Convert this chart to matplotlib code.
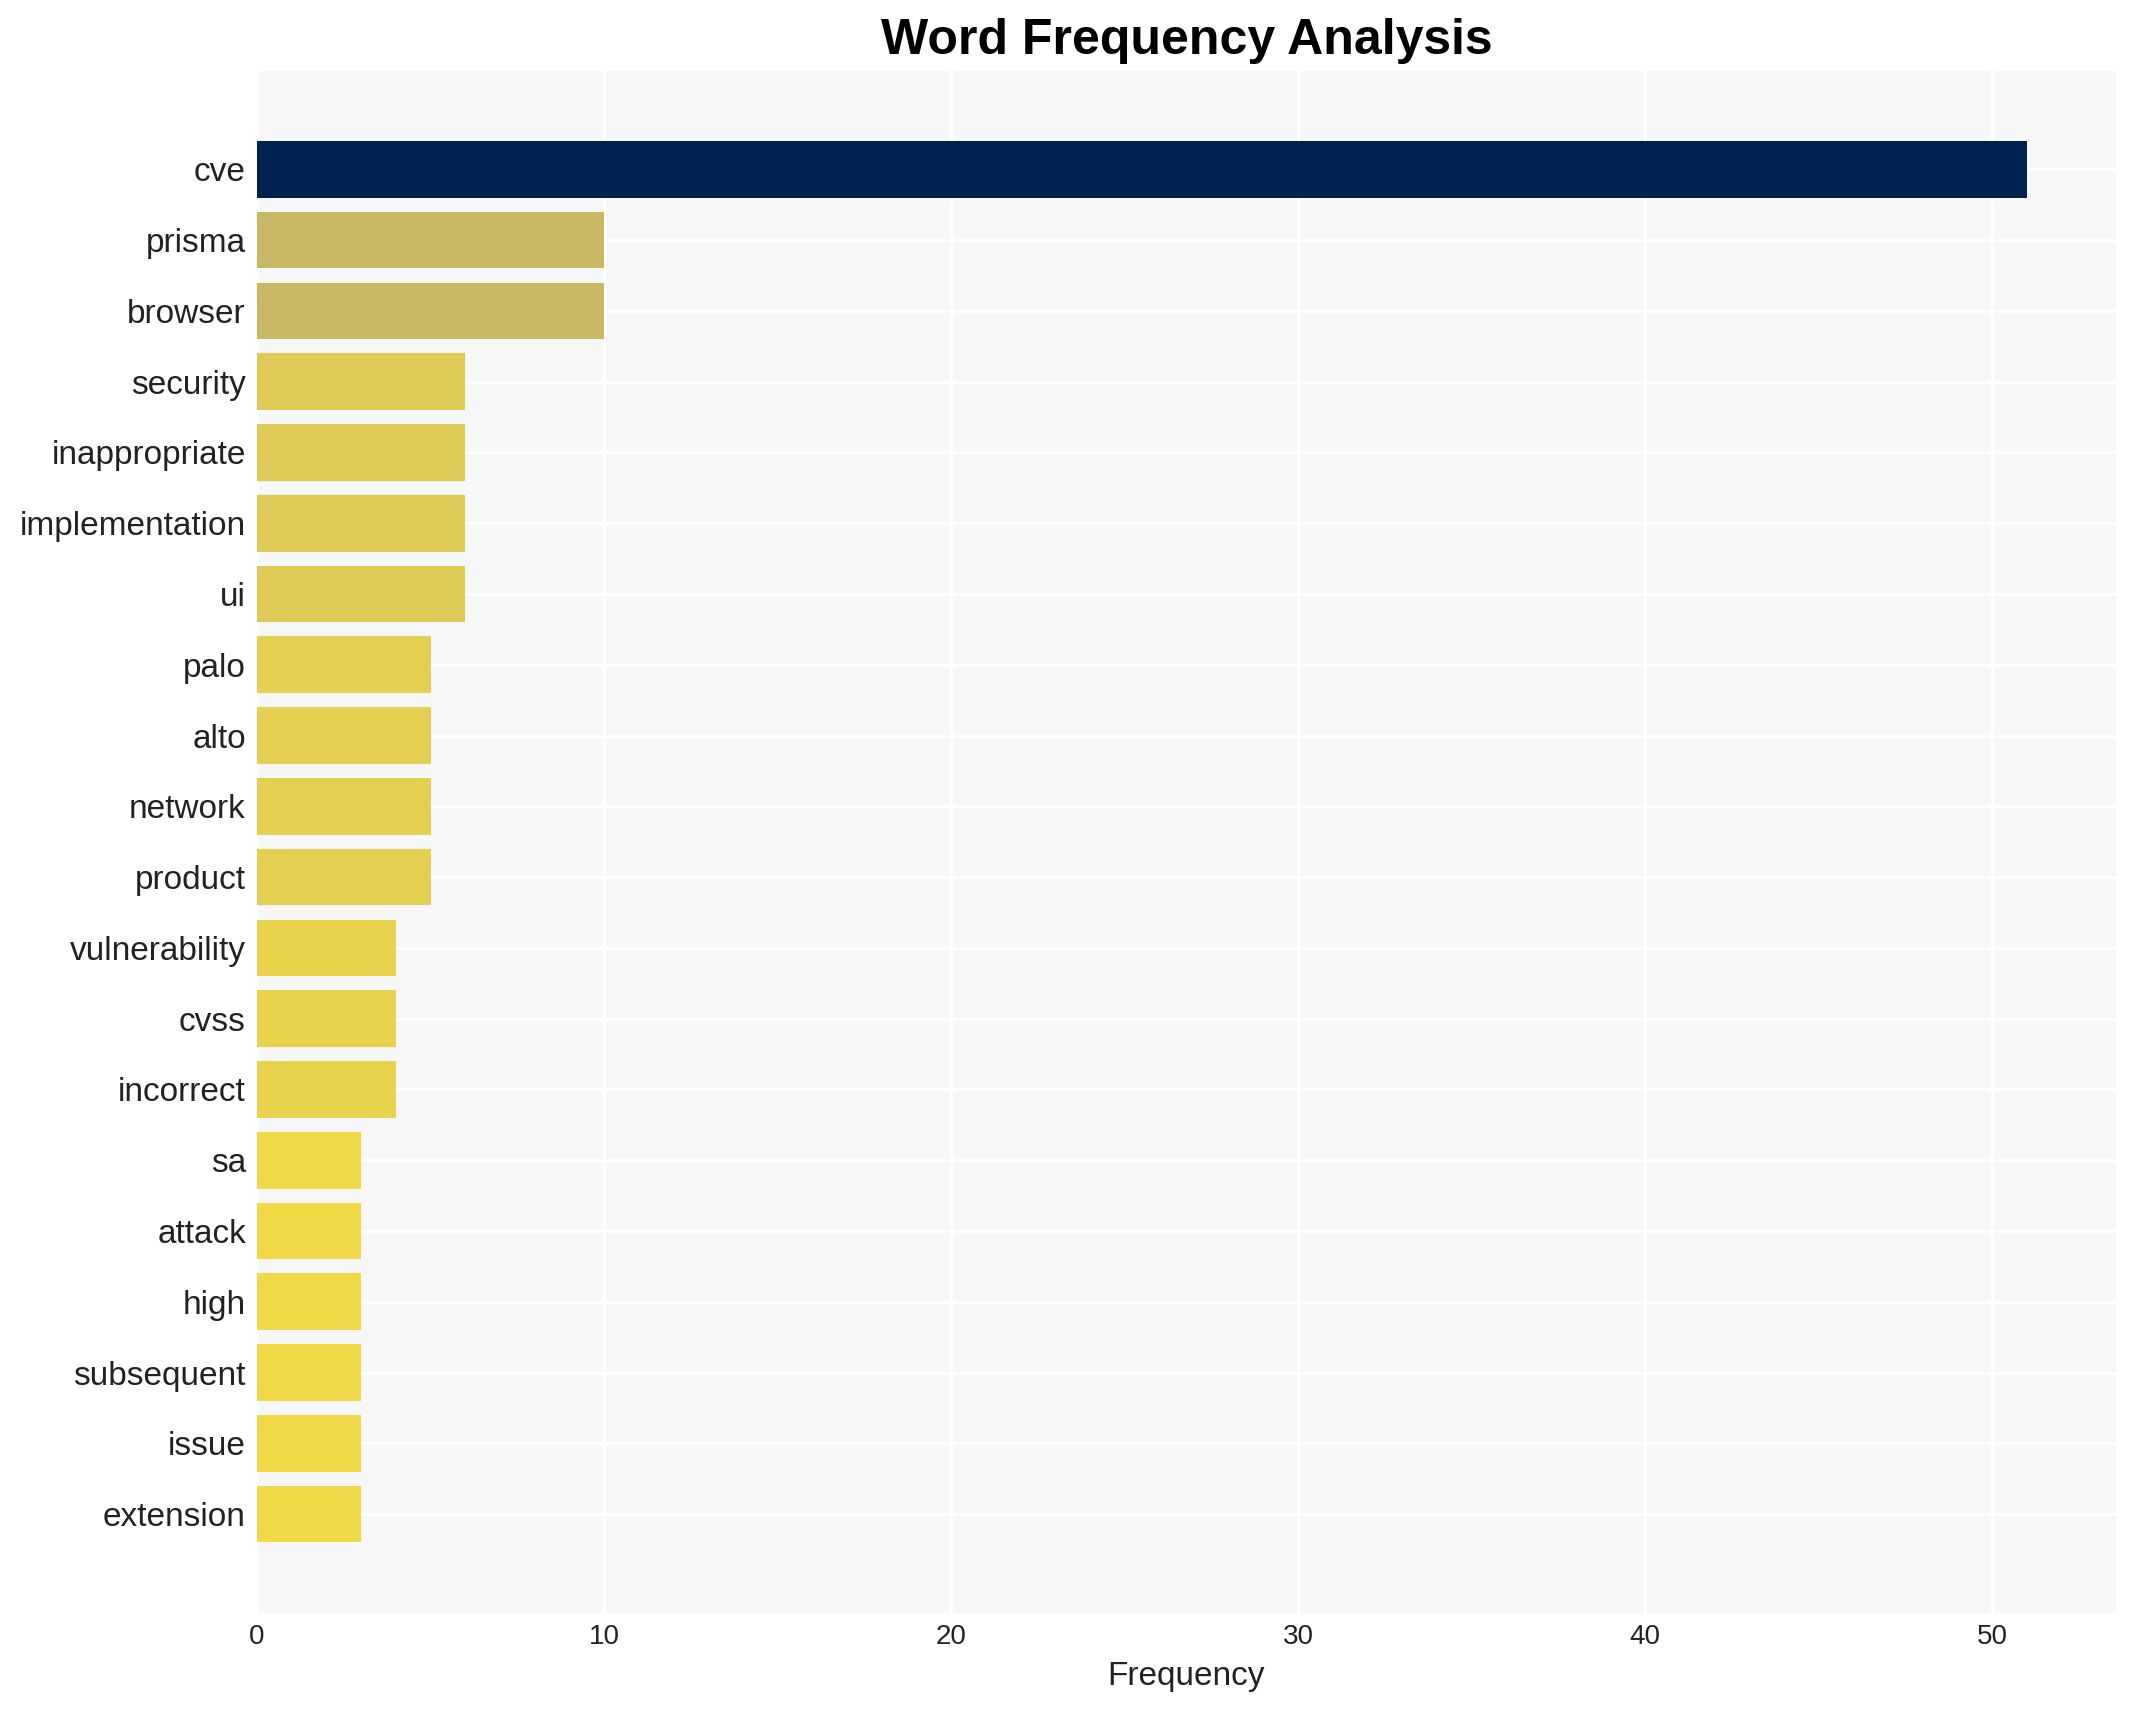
import matplotlib
matplotlib.use("Agg")
import matplotlib.pyplot as plt
from matplotlib import colors as mcolors
import numpy as np

words = ["cve", "prisma", "browser", "security", "inappropriate", "implementation",
         "ui", "palo", "alto", "network", "product", "vulnerability", "cvss",
         "incorrect", "sa", "attack", "high", "subsequent", "issue", "extension"]
counts = [51, 10, 10, 6, 6, 6, 6, 5, 5, 5, 5, 4, 4, 4, 3, 3, 3, 3, 3, 3]
x_ticks = [0, 10, 20, 30, 40, 50]

plt.rcParams['font.family'] = ['Liberation Sans', 'DejaVu Sans']

fig = plt.figure(figsize=(10.675, 8.55), dpi=200)
ax = fig.add_axes([0.1204, 0.0570, 0.8705, 0.9015])
ax.set_facecolor('#f7f7f7')

cmap = plt.get_cmap('cividis_r')
norm = mcolors.Normalize(vmin=0, vmax=max(counts))
bar_colors = [cmap(norm(v)) for v in counts]

y = np.arange(len(words))
ax.barh(y, counts, height=0.8, color=bar_colors, zorder=3)
ax.set_yticks(y)
ax.set_yticklabels(words, fontsize=12, color='#222222')
ax.invert_yaxis()
ax.set_xticks(x_ticks)
ax.tick_params(axis='x', labelsize=10, colors='#222222', length=0, pad=4)
ax.tick_params(axis='y', length=0, pad=4)
ax.margins(x=0.05, y=0.05)
ax.set_xlim(0, max(counts) * 1.05)

ax.grid(True, color='white', linewidth=1.0, zorder=0)
ax.set_axisbelow(True)
for s in ax.spines.values():
    s.set_visible(False)

ax.set_xlabel('Frequency', fontsize=12, color='#222222', labelpad=4)
ax.set_title('Word Frequency Analysis', fontsize=18, fontweight='bold', pad=6)

fig.savefig('out.png', dpi=200)
